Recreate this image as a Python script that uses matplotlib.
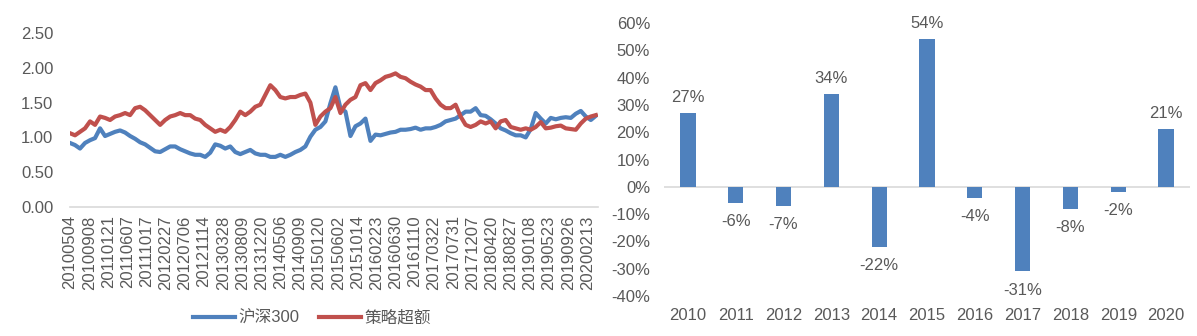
import numpy as np
import matplotlib
matplotlib.use("Agg")
import matplotlib.pyplot as plt
from matplotlib.ticker import FuncFormatter

# -----------------------------
# Data
# -----------------------------

# trading-day axis labels, one every 88 trading days
date_labels = [
    "20100504", "20100908", "20110121", "20110607", "20111017", "20120227",
    "20120706", "20121114", "20130328", "20130809", "20131220", "20140506",
    "20140909", "20150120", "20150602", "20151014", "20160223", "20160630",
    "20161110", "20170322", "20170731", "20171207", "20180420", "20180827",
    "20190108", "20190523", "20190926", "20200213",
]
label_step = 88
sample_step = 23  # trading days between samples below

# net value, normalised to the start date
hs300 = [
    0.92, 0.89, 0.84, 0.92, 0.96, 0.99, 1.13, 1.02, 1.05, 1.08,
    1.10, 1.07, 1.02, 0.98, 0.93, 0.90, 0.85, 0.80, 0.79, 0.83,
    0.87, 0.87, 0.83, 0.80, 0.77, 0.75, 0.75, 0.72, 0.78, 0.90,
    0.88, 0.84, 0.87, 0.79, 0.76, 0.79, 0.82, 0.77, 0.75, 0.75,
    0.72, 0.72, 0.75, 0.72, 0.75, 0.79, 0.82, 0.87, 1.01, 1.11,
    1.15, 1.23, 1.49, 1.72, 1.42, 1.37, 1.02, 1.16, 1.20, 1.27,
    0.95, 1.04, 1.03, 1.05, 1.07, 1.08, 1.11, 1.11, 1.12, 1.14,
    1.11, 1.13, 1.13, 1.15, 1.18, 1.23, 1.25, 1.27, 1.32, 1.37,
    1.37, 1.42, 1.32, 1.31, 1.26, 1.20, 1.13, 1.10, 1.06, 1.03,
    1.03, 1.00, 1.12, 1.35, 1.27, 1.20, 1.28, 1.26, 1.28, 1.29,
    1.28, 1.34, 1.38, 1.30, 1.25, 1.31,
]

excess = [
    1.06, 1.03, 1.08, 1.13, 1.23, 1.18, 1.30, 1.28, 1.25, 1.30,
    1.32, 1.35, 1.32, 1.42, 1.44, 1.39, 1.32, 1.25, 1.18, 1.25,
    1.30, 1.32, 1.35, 1.32, 1.32, 1.27, 1.25, 1.18, 1.13, 1.08,
    1.11, 1.08, 1.15, 1.25, 1.37, 1.32, 1.37, 1.44, 1.47, 1.61,
    1.75, 1.68, 1.58, 1.56, 1.58, 1.58, 1.61, 1.63, 1.50, 1.18,
    1.30, 1.37, 1.42, 1.58, 1.35, 1.47, 1.54, 1.58, 1.75, 1.78,
    1.68, 1.78, 1.82, 1.87, 1.89, 1.92, 1.87, 1.85, 1.80, 1.76,
    1.73, 1.68, 1.68, 1.56, 1.47, 1.42, 1.42, 1.47, 1.30, 1.18,
    1.15, 1.18, 1.23, 1.20, 1.23, 1.13, 1.23, 1.25, 1.15, 1.13,
    1.11, 1.13, 1.11, 1.15, 1.22, 1.13, 1.14, 1.16, 1.17, 1.13,
    1.12, 1.11, 1.20, 1.27, 1.30, 1.32,
]

# yearly excess return, %
years = ["2010", "2011", "2012", "2013", "2014", "2015",
         "2016", "2017", "2018", "2019", "2020"]
yearly_excess = [27, -6, -7, 34, -22, 54, -4, -31, -8, -2, 21]

# -----------------------------
# Style
# -----------------------------

plt.rcParams["font.family"] = ["Liberation Sans", "Noto Sans CJK SC", "DejaVu Sans"]
plt.rcParams["font.size"] = 12

BLUE = "#4F81BD"
RED = "#C0504D"
TEXT = "#595959"
AXIS = "#D9D9D9"

fig = plt.figure(figsize=(11.97, 3.36), dpi=100)

# -----------------------------
# Left: net value lines
# -----------------------------

ax1 = fig.add_axes([70 / 1197, 129 / 336, 528 / 1197, 174 / 336])

days = np.arange(len(hs300)) * sample_step

ax1.plot(days, hs300, color=BLUE, lw=3.0, label="沪深300")
ax1.plot(days, excess, color=RED, lw=3.0, label="策略超额")

ax1.set_xlim(0, 2425)
ax1.set_ylim(0, 2.5)
ax1.set_yticks(np.arange(0, 2.51, 0.5))
ax1.yaxis.set_major_formatter(FuncFormatter(lambda v, p: f"{v:.2f}"))

ax1.set_xticks(np.arange(len(date_labels)) * label_step)
ax1.set_xticklabels(date_labels, rotation=90)

for side in ["left", "right", "top"]:
    ax1.spines[side].set_visible(False)
ax1.spines["bottom"].set_color(AXIS)
ax1.spines["bottom"].set_linewidth(1.2)

ax1.tick_params(axis="y", length=0, pad=12, colors=TEXT, labelsize=12)
ax1.tick_params(axis="x", length=0, pad=6, colors=TEXT, labelsize=12)

ax1.legend(
    loc="center",
    bbox_to_anchor=(312 / 1197, 1 - 318 / 336),
    bbox_transform=fig.transFigure,
    ncol=2,
    frameon=False,
    handlelength=2.5,
    handletextpad=0.2,
    columnspacing=1.2,
    fontsize=12,
    labelcolor=TEXT,
)

# -----------------------------
# Right: yearly excess bars
# -----------------------------

ax2 = fig.add_axes([664 / 1197, 40 / 336, 526 / 1197, 273 / 336])

x = np.arange(len(years))
ax2.bar(x, yearly_excess, width=0.32, color=BLUE)

for xi, v in zip(x, yearly_excess):
    if v >= 0:
        ax2.annotate(f"{v}%", (xi, v), xytext=(0, 6), textcoords="offset points",
                     ha="center", va="bottom", color=TEXT, fontsize=12)
    else:
        ax2.annotate(f"{v}%", (xi, v), xytext=(0, -8), textcoords="offset points",
                     ha="center", va="top", color=TEXT, fontsize=12)

ax2.set_xlim(-0.5, len(years) - 0.5)
ax2.set_ylim(-40, 60)
ax2.set_yticks(np.arange(-40, 61, 10))
ax2.yaxis.set_major_formatter(FuncFormatter(lambda v, p: f"{v:.0f}%"))
ax2.set_xticks(x)
ax2.set_xticklabels(years)

for side in ["left", "right", "top", "bottom"]:
    ax2.spines[side].set_visible(False)
ax2.axhline(0, color=AXIS, lw=1.2, zorder=0)

ax2.tick_params(axis="y", length=0, pad=10, colors=TEXT, labelsize=12)
ax2.tick_params(axis="x", length=0, pad=9, colors=TEXT, labelsize=12)

fig.savefig("out.png", dpi=100)
